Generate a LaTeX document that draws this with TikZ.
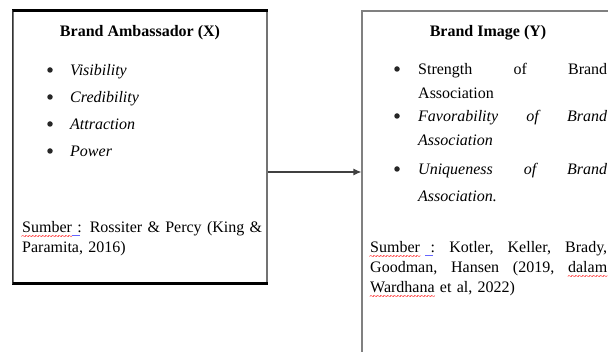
\documentclass[tikz,border=0pt]{standalone}
\usepackage{fontspec}
\setmainfont{Liberation Serif}
\usetikzlibrary{positioning,arrows.meta}
\tikzset{
	>={Latex[length=8pt,width=7pt]}
}
% spell-check marks as in the original
\newsavebox\wavebox
\newcommand\redwave[1]{\leavevmode\sbox\wavebox{#1}\rlap{\lower6.5pt\hbox to \wd\wavebox{\color{red}\fontsize{9}{9}\selectfont\xleaders\hbox{\kern-0.8pt\textasciitilde\kern-0.8pt}\hfill}}\usebox\wavebox}
\newcommand\blueul{\rlap{\textcolor{blue!60}{\rule[-3pt]{8pt}{0.9pt}}}}

\begin{document}
\begin{tikzpicture}[
x = 1pt, y = -1pt,
every node/.style = {
	font = \fontsize{16}{19.5}\selectfont,
	inner sep = 0pt
},
box/.style = {
	draw = black!55,
	line width = 1.1pt
},
rule/.style = {
	line width = 2.2pt,
	black
},
heading/.style = {
	font = \fontsize{16}{19.5}\selectfont\bfseries,
	anchor = base
},
dot/.style = {
	circle,
	fill = black!85,
	minimum size = 5.5pt
},
point/.style = {
	font = \fontsize{16}{24}\selectfont\itshape,
	anchor = base west,
	align = left
},
source/.style = {
	font = \fontsize{16}{20}\selectfont,
	anchor = base west,
	align = left
},
link/.style = {
	->,
	line width = 1.2pt,
	black!75
}
]
\useasboundingbox (0,0) rectangle (608,352);
\clip (0,0) rectangle (608,352);

% left box
\node [box, minimum width = 254pt, minimum height = 272pt] (ambassador) at (140,147) {};
\draw [rule] (ambassador.north west) -- (ambassador.north east);
\draw [rule] (ambassador.south west) -- (ambassador.south east);
\draw [line width = 1.6pt, black!80] (ambassador.north west) -- (ambassador.south west);
\node [heading] (ambtitle) at ([yshift=-26pt]ambassador.north) {Brand Ambassador (X)};

\foreach \txt [count=\i] in {Visibility, Credibility, Attraction, Power} {
	\node [dot] (ambdot\i) at (50, {43+27*\i}) {};
	\node [point] (amb\i) at (70, {49+27*\i}) {\txt};
}

\node [source, text width = 262pt] (ambsrc) at (22,233)
	{\redwave{Sumber}\blueul\ : Rossiter \& Percy (King \&\\Paramita, 2016)};

% right box
\node [box, draw = black!50, minimum width = 252pt, minimum height = 349pt] (image) at (488,185.5) {};
\node [heading] (imgtitle) at ([yshift=-26pt]image.north) {Brand Image (Y)};

\node [dot] (imgdot1) at (397,69) {};
\node [point, text width = 189pt] (img1) at (418,75)
	{\upshape Strength\hfill of\hfill Brand\\Association};
\node [dot] (imgdot2) at (397,116) {};
\node [point, text width = 189pt] (img2) at (418,122)
	{Favorability\hfill of\hfill Brand\\Association};
\node [dot] (imgdot3) at (397,169) {};
\node [point, text width = 189pt, font = \fontsize{16}{27}\selectfont\itshape] (img3) at (418,175)
	{Uniqueness\hfill of\hfill Brand\\Association.};

\node [source, text width = 237pt] (imgsrc) at (370,253)
	{\redwave{Sumber}\ \blueul\ :\hfill Kotler,\hfill Keller,\hfill Brady,\\
	Goodman,\hfill Hansen\hfill (2019,\hfill \redwave{dalam}\\
	\redwave{Wardhana} et al, 2022)};

% connector
\coordinate (arrowrow) at (0,172);
\draw [link] (ambassador.east |- arrowrow) -- (image.west |- arrowrow);

\end{tikzpicture}
\end{document}
